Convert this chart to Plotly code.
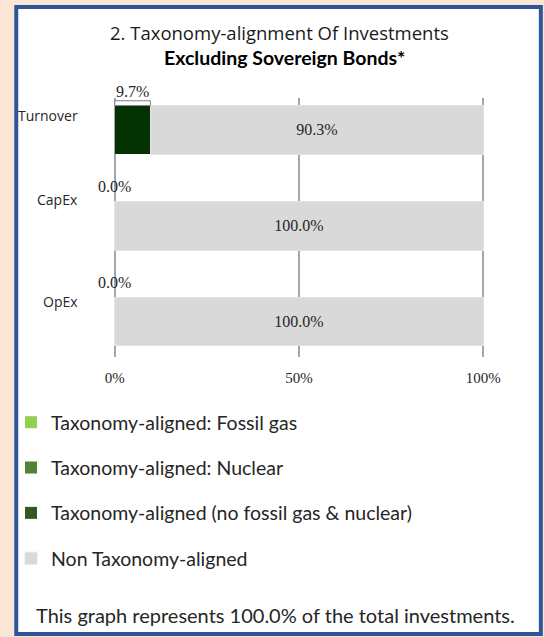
import plotly.graph_objects as go

# ---------------- data ----------------
categories = ["Turnover", "CapEx", "OpEx"]
fossil_gas = [0.0, 0.0, 0.0]
nuclear = [0.0, 0.0, 0.0]
aligned_no_gas_nuclear = [9.7, 0.0, 0.0]
non_aligned = [90.3, 100.0, 100.0]
x_ticks = [0, 50, 100]
x_tick_labels = ["0%", "50%", "100%"]
title_line1 = "2. Taxonomy-alignment Of Investments"
title_line2 = "Excluding Sovereign Bonds*"
footnote = "This graph represents 100.0% of the total investments."

# ---------------- layout geometry (pixels) ----------------
W, H = 544, 637
L, R, T, B = 110, 57, 98, 280
PW, PH = W - L - R, H - T - B


def px(x):
    return (x - L) / PW


def py(y):
    return 1 - (y - T) / PH


BAR_W = 0.51
SERIF = "Liberation Serif, Times New Roman, serif"
SANS = "Open Sans, Noto Sans, sans-serif"
LATO = "Lato, Open Sans, sans-serif"

c_gas = "#92D050"
c_nuc = "#548235"
c_aligned = "#033303"
c_aligned_legend = "#375623"
c_non = "#D9D9D9"

fig = go.Figure()
fig.add_trace(go.Bar(y=categories, x=fossil_gas, orientation="h", name="Taxonomy-aligned: Fossil gas",
                     marker=dict(color=c_gas, line=dict(width=0)), width=BAR_W,
                     legendgroup="a", legendrank=1, hoverinfo="skip"))
fig.add_trace(go.Bar(y=categories, x=nuclear, orientation="h", name="Taxonomy-aligned: Nuclear",
                     marker=dict(color=c_nuc, line=dict(width=0)), width=BAR_W,
                     legendgroup="b", legendrank=2, hoverinfo="skip"))
fig.add_trace(go.Bar(y=categories, x=aligned_no_gas_nuclear, orientation="h",
                     name="Taxonomy-aligned (no fossil gas & nuclear)",
                     marker=dict(color=c_aligned, line=dict(width=0)), width=BAR_W,
                     showlegend=False, hoverinfo="skip"))
# legend swatch for the aligned series (zero-length, legend colour as in original)
fig.add_trace(go.Bar(y=categories, x=[0.0 for _ in categories], orientation="h",
                     name="Taxonomy-aligned (no fossil gas & nuclear)",
                     marker=dict(color=c_aligned_legend, line=dict(width=0)), width=BAR_W,
                     legendgroup="c", legendrank=3, hoverinfo="skip"))
fig.add_trace(go.Bar(y=categories, x=non_aligned, orientation="h", name="Non Taxonomy-aligned",
                     marker=dict(color=c_non, line=dict(width=1, color="#E3E3E3")), width=BAR_W,
                     text=[f"{v:.1f}%" for v in non_aligned], textposition="inside",
                     insidetextanchor="middle", textangle=0,
                     textfont=dict(family=SERIF, size=16, color="#262626"),
                     legendgroup="d", legendrank=4, hoverinfo="skip"))

annotations = []
shapes = []

# outer box
shapes.append(dict(type="rect", xref="paper", yref="paper", x0=px(15), x1=px(541), y0=py(7), y1=py(634),
                   line=dict(color="#2F5597", width=4), fillcolor="white", layer="below"))

# labels for the aligned series, above each bar
for i, v in enumerate(aligned_no_gas_nuclear):
    annotations.append(dict(x=v / 2, y=i - BAR_W / 2, xref="x", yref="y", text=f"{v:.1f}%",
                            showarrow=False, xanchor="center", yanchor="bottom", yshift=4,
                            font=dict(family=SERIF, size=16, color="#262626")))
    if v > 0:
        shapes.append(dict(type="rect", xref="x", yref="y", x0=0, x1=v,
                           y0=i - BAR_W / 2 - 0.05, y1=i - BAR_W / 2,
                           line=dict(color="#7F7F7F", width=1), fillcolor="white"))

# category labels (shifted above bar centres as in the original)
label_shift = [14, 26, 20]
for i, c in enumerate(categories):
    annotations.append(dict(x=px(79), y=i, xref="paper", yref="y", text=c, showarrow=False,
                            xanchor="right", yanchor="middle", yshift=label_shift[i],
                            font=dict(family=SANS, size=14, color="#262626")))

# titles
annotations.append(dict(x=px(279), y=py(32), xref="paper", yref="paper", text=title_line1,
                        showarrow=False, xanchor="center", yanchor="middle",
                        font=dict(family=SANS, size=18.5, color="#1a1a1a")))
annotations.append(dict(x=px(284), y=py(57), xref="paper", yref="paper", text=f"<b>{title_line2}</b>",
                        showarrow=False, xanchor="center", yanchor="middle",
                        font=dict(family=LATO, size=19.5, color="#000000")))
# footnote
annotations.append(dict(x=px(275), y=py(615), xref="paper", yref="paper",
                        text=footnote, showarrow=False, xanchor="center", yanchor="middle",
                        font=dict(family=LATO, size=20, color="#262626")))

fig.update_layout(
    width=W, height=H,
    margin=dict(l=L, r=R, t=T, b=B),
    paper_bgcolor="#FBE5D6", plot_bgcolor="white",
    barmode="stack", bargap=0.49,
    showlegend=True,
    legend=dict(x=px(11), xanchor="left", y=py(403), yanchor="top", orientation="v",
                font=dict(family=LATO, size=19.5, color="#262626"), tracegroupgap=17,
                bgcolor="rgba(0,0,0,0)", itemclick=False, itemdoubleclick=False),
    xaxis=dict(range=[-1, 101], tickvals=x_ticks, ticktext=x_tick_labels, showgrid=True,
               gridcolor="#A6A6A6", gridwidth=2, zeroline=False, showline=False, ticks="",
               tickfont=dict(family=SERIF, size=15, color="#262626"), ticklabelstandoff=10,
               fixedrange=True),
    yaxis=dict(range=[2.37, -0.334], showticklabels=False, showgrid=False, zeroline=False,
               ticks="", fixedrange=True),
    annotations=annotations, shapes=shapes,
)

fig.write_html("out.html")
